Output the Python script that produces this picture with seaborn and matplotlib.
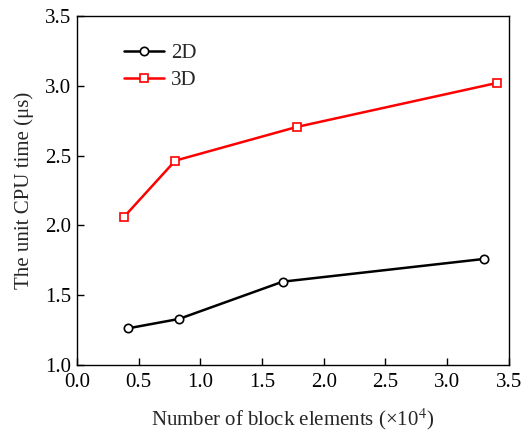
import matplotlib
matplotlib.use("Agg")
import matplotlib.pyplot as plt
import seaborn as sns
import pandas as pd

# Number of block elements (x10^4) and unit CPU time (µs)
x_2d = [0.416, 0.827, 1.667, 3.30]
t_2d = [1.263, 1.330, 1.597, 1.760]
x_3d = [0.383, 0.797, 1.780, 3.40]
t_3d = [2.062, 2.464, 2.705, 3.020]
series_names = ["2D", "3D"]
x_ticks = [0.0, 0.5, 1.0, 1.5, 2.0, 2.5, 3.0, 3.5]
y_ticks = [1.0, 1.5, 2.0, 2.5, 3.0, 3.5]

df = pd.concat([
    pd.DataFrame({"x": x_2d, "t": t_2d, "case": series_names[0]}),
    pd.DataFrame({"x": x_3d, "t": t_3d, "case": series_names[1]}),
])

sns.set_style("ticks")
plt.rcParams["font.family"] = ["Liberation Serif", "DejaVu Serif"]
plt.rcParams["mathtext.fontset"] = "stix"

fig = plt.figure(figsize=(5.23, 4.33), dpi=100)
ax = fig.add_axes([0.147, 0.157, 0.826, 0.806])

palette = {"2D": "black", "3D": "#ff0000"}
markers = {"2D": "o", "3D": "s"}
for name in series_names:
    sub = df[df["case"] == name]
    sns.lineplot(data=sub, x="x", y="t", ax=ax, color=palette[name],
                 marker=markers[name], markersize=6 if name == "2D" else 5.5,
                 markerfacecolor="white", markeredgecolor=palette[name],
                 markeredgewidth=1.2, linewidth=1.8, label=name)

ax.set_xlim(0, 3.5)
ax.set_ylim(1.0, 3.5)
ax.set_xticks(x_ticks)
ax.set_yticks(y_ticks)
ax.set_xticklabels([f"{v:.1f}" for v in x_ticks])
ax.set_yticklabels([f"{v:.1f}" for v in y_ticks])
ax.tick_params(direction="in", length=5, width=1, labelsize=15, colors="black")
ax.tick_params(axis="x", pad=6)
ax.tick_params(axis="y", pad=4)
for s in ax.spines.values():
    s.set_linewidth(1.0)
    s.set_color("black")

ax.set_xlabel(r"Number of block elements (×10$^4$)", fontsize=15, labelpad=10)
ax.set_ylabel("The unit CPU time (μs)", fontsize=15, labelpad=8)

leg = ax.legend(loc="upper left", bbox_to_anchor=(0.09, 0.945), frameon=False,
                fontsize=15, handlelength=1.9, handletextpad=0.35,
                labelspacing=0.35, borderaxespad=0)

fig.savefig("out.png", dpi=100)
